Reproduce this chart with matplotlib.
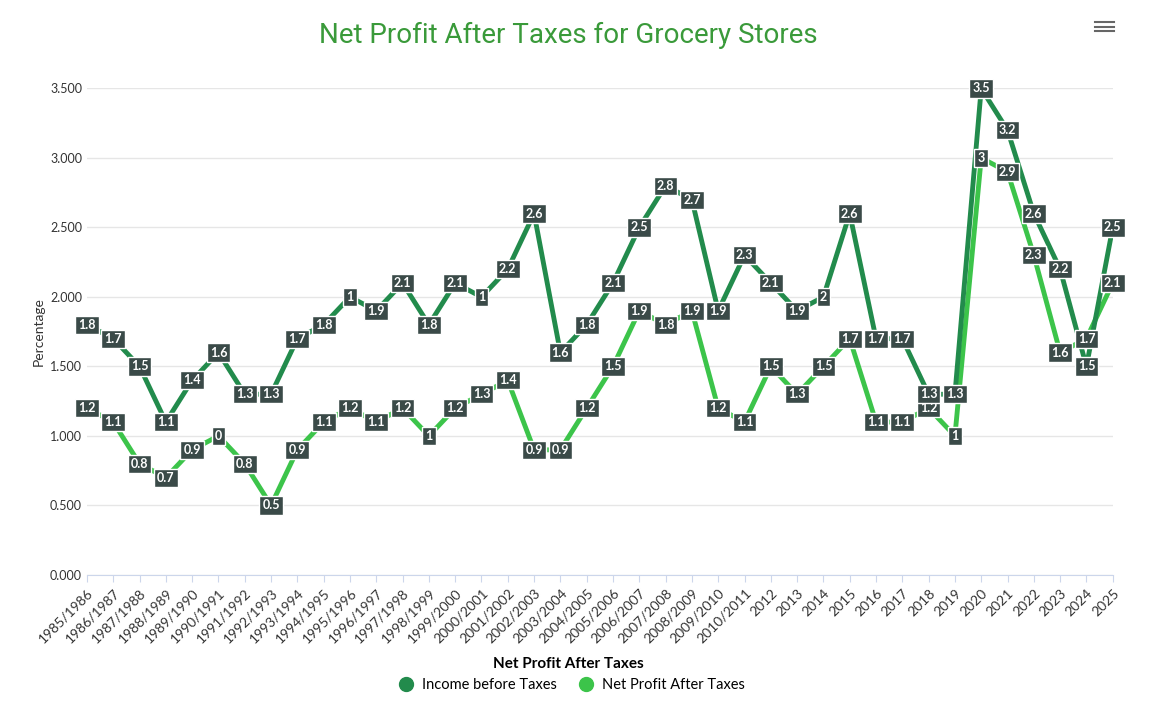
import matplotlib
matplotlib.use("Agg")
import matplotlib.pyplot as plt
from matplotlib.ticker import FuncFormatter
from matplotlib.lines import Line2D

categories = ["1985/1986","1986/1987","1987/1988","1988/1989","1989/1990","1990/1991","1991/1992","1992/1993",
              "1993/1994","1994/1995","1995/1996","1996/1997","1997/1998","1998/1999","1999/2000","2000/2001",
              "2001/2002","2002/2003","2003/2004","2004/2005","2005/2006","2006/2007","2007/2008","2008/2009",
              "2009/2010","2010/2011","2012","2013","2014","2015","2016","2017","2018","2019","2020","2021",
              "2022","2023","2024","2025"]
income = [1.8,1.7,1.5,1.1,1.4,1.6,1.3,1.3,1.7,1.8,2.0,1.9,2.1,1.8,2.1,2.0,2.2,2.6,1.6,1.8,2.1,2.5,2.8,2.7,
          1.9,2.3,2.1,1.9,2.0,2.6,1.7,1.7,1.3,1.3,3.5,3.2,2.6,2.2,1.5,2.5]
income_labels = ["1.8","1.7","1.5","1.1","1.4","1.6","1.3","1.3","1.7","1.8","1","1.9","2.1","1.8","2.1","1",
                 "2.2","2.6","1.6","1.8","2.1","2.5","2.8","2.7","1.9","2.3","2.1","1.9","2","2.6","1.7","1.7",
                 "1.3","1.3","3.5","3.2","2.6","2.2","1.5","2.5"]
net = [1.2,1.1,0.8,0.7,0.9,1.0,0.8,0.5,0.9,1.1,1.2,1.1,1.2,1.0,1.2,1.3,1.4,0.9,0.9,1.2,1.5,1.9,1.8,1.9,
       1.2,1.1,1.5,1.3,1.5,1.7,1.1,1.1,1.2,1.0,3.0,2.9,2.3,1.6,1.7,2.1]
net_labels = ["1.2","1.1","0.8","0.7","0.9","0","0.8","0.5","0.9","1.1","1.2","1.1","1.2","1","1.2","1.3",
              "1.4","0.9","0.9","1.2","1.5","1.9","1.8","1.9","1.2","1.1","1.5","1.3","1.5","1.7","1.1","1.1",
              "1.2","1","3","2.9","2.3","1.6","1.7","2.1"]

plt.rcParams['font.family'] = ['Lato', 'DejaVu Sans']
DARK = "#228b4c"
LIGHT = "#3cc44a"
fig = plt.figure(figsize=(11.67, 7.02), dpi=100)
ax = fig.add_axes([0.0745, 0.181, 0.879, 0.693])
x = list(range(len(categories)))
ax.plot(x, income, color=DARK, lw=3.5, zorder=3)
ax.plot(x, net, color=LIGHT, lw=3.5, zorder=2)
box = dict(boxstyle="square,pad=0.25", fc="#3a4a48", ec="white", lw=1)
for xi, v, l in zip(x, net, net_labels):
    ax.text(xi, v, l, ha="center", va="center", color="white", fontsize=9, fontweight="bold", bbox=box, zorder=4)
for xi, v, l in zip(x, income, income_labels):
    ax.text(xi, v, l, ha="center", va="center", color="white", fontsize=9, fontweight="bold", bbox=box, zorder=5)

ax.set_xlim(0, len(categories) - 1)
ax.set_ylim(0, 3.5)
ax.set_yticks([0, 0.5, 1, 1.5, 2, 2.5, 3, 3.5])
ax.yaxis.set_major_formatter(FuncFormatter(lambda v, p: f"{v:.3f}"))
ax.set_xticks(x)
ax.set_xticklabels(categories, rotation=45, ha="right", rotation_mode="anchor", fontsize=10, color="#333333")
ax.tick_params(axis="y", length=0, labelsize=9, colors="#333333")
ax.tick_params(axis="x", length=5, color="#ccd6eb")
ax.grid(axis="y", color="#e6e6e6", lw=1)
for s in ["top", "right", "left"]:
    ax.spines[s].set_visible(False)
ax.spines["bottom"].set_color("#ccd6eb")
ax.set_ylabel("Percentage", fontsize=10, color="#333333")

fig.text(0.487, 0.95, "Net Profit After Taxes for Grocery Stores", ha="center", va="center",
         fontsize=20, color="#3a9a3a", family=["Roboto Slab", "Roboto", "DejaVu Sans"])
fig.text(0.487, 0.044 + 0.0, "", ha="center")
handles = [Line2D([], [], marker="o", ls="", color=DARK, markersize=10, label="Income before Taxes"),
           Line2D([], [], marker="o", ls="", color=LIGHT, markersize=10, label="Net Profit After Taxes")]
leg = fig.legend(handles=handles, loc="lower center", bbox_to_anchor=(0.487, -0.005), ncol=2, frameon=False,
                 title="Net Profit After Taxes", fontsize=10.5, handletextpad=0.1, columnspacing=1.0)
leg.get_title().set_fontweight("bold")
leg.get_title().set_fontsize(11)
# menu icon
for yy in [0.956, 0.962, 0.968]:
    fig.add_artist(Line2D([0.938, 0.955], [yy, yy], color="#666666", lw=1.5))
fig.savefig("out.png", dpi=100)
